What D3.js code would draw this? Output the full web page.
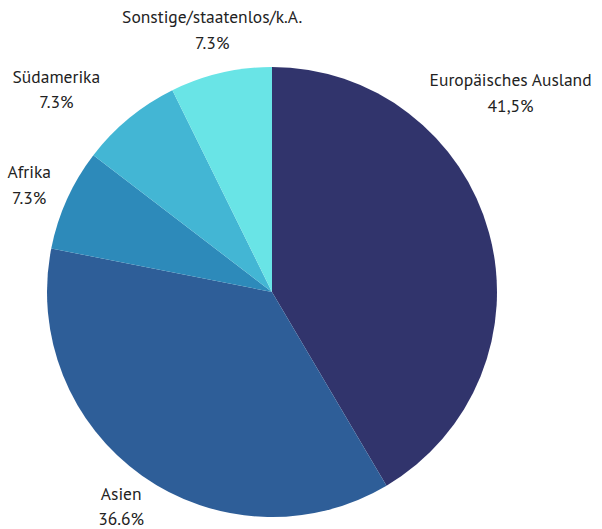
<!DOCTYPE html>
<html>
<head>
<meta charset="utf-8">
<script src="https://cdn.jsdelivr.net/npm/d3@7"></script>
<style>
  body { margin: 0; background: #fff; }
  text { font-family: "PT Sans", Lato, "Open Sans", sans-serif; }
</style>
</head>
<body>
<div id="chart"></div>
<script>
var categories = ["Europäisches Ausland", "Asien", "Afrika", "Südamerika", "Sonstige/staatenlos/k.A."];
var values = [41.5, 36.6, 7.3, 7.3, 7.3];
var valueLabels = ["41,5%", "36.6%", "7.3%", "7.3%", "7.3%"];
var colors = ["#31346c", "#2e5e98", "#2d8aba", "#43b6d4", "#69e4e6"];

var width = 602,
    height = 529,
    cx = 272,
    cy = 292,
    radius = 225,
    labelDist = 263;

// label placement tweaks (degrees from 12 o'clock, distance from centre)
var labelNudge = {
  "Europäisches Ausland": { angle: 51, dist: 307 },
  "Asien": { angle: 214.4, dist: 267 },
  "Afrika": { angle: 292.6, dist: 263 },
  "Südamerika": { angle: 312.4, dist: 292 }
};

var svg = d3.select('#chart').append('svg')
  .attr('width', width)
  .attr('height', height);

var g = svg.append('g').attr('transform', 'translate(' + cx + ',' + cy + ')');

var data = categories.map(function(c, i) {
  return { name: c, value: values[i], label: valueLabels[i], color: colors[i] };
});

var pie = d3.pie()
  .sort(null)
  .value(function(d) { return d.value; });

var arc = d3.arc()
  .innerRadius(0)
  .outerRadius(radius);

var arcs = pie(data);

g.selectAll('path')
  .data(arcs)
  .enter().append('path')
  .attr('d', arc)
  .attr('fill', function(d) { return d.data.color; });

var labels = g.selectAll('g.label')
  .data(arcs)
  .enter().append('g')
  .attr('class', 'label')
  .attr('transform', function(d) {
    var a = (d.startAngle + d.endAngle) / 2,
        r = labelDist,
        n = labelNudge[d.data.name];
    if (n) { a = n.angle * Math.PI / 180; r = n.dist; }
    return 'translate(' + (Math.sin(a) * r) + ',' + (-Math.cos(a) * r) + ')';
  });

labels.append('text')
  .attr('text-anchor', 'middle')
  .attr('y', -12.5)
  .attr('font-size', 17.5)
  .attr('fill', '#222')
  .text(function(d) { return d.data.name; });

labels.append('text')
  .attr('text-anchor', 'middle')
  .attr('y', 13)
  .attr('font-size', 17.5)
  .attr('fill', '#222')
  .text(function(d) { return d.data.label; });
</script>
</body>
</html>
